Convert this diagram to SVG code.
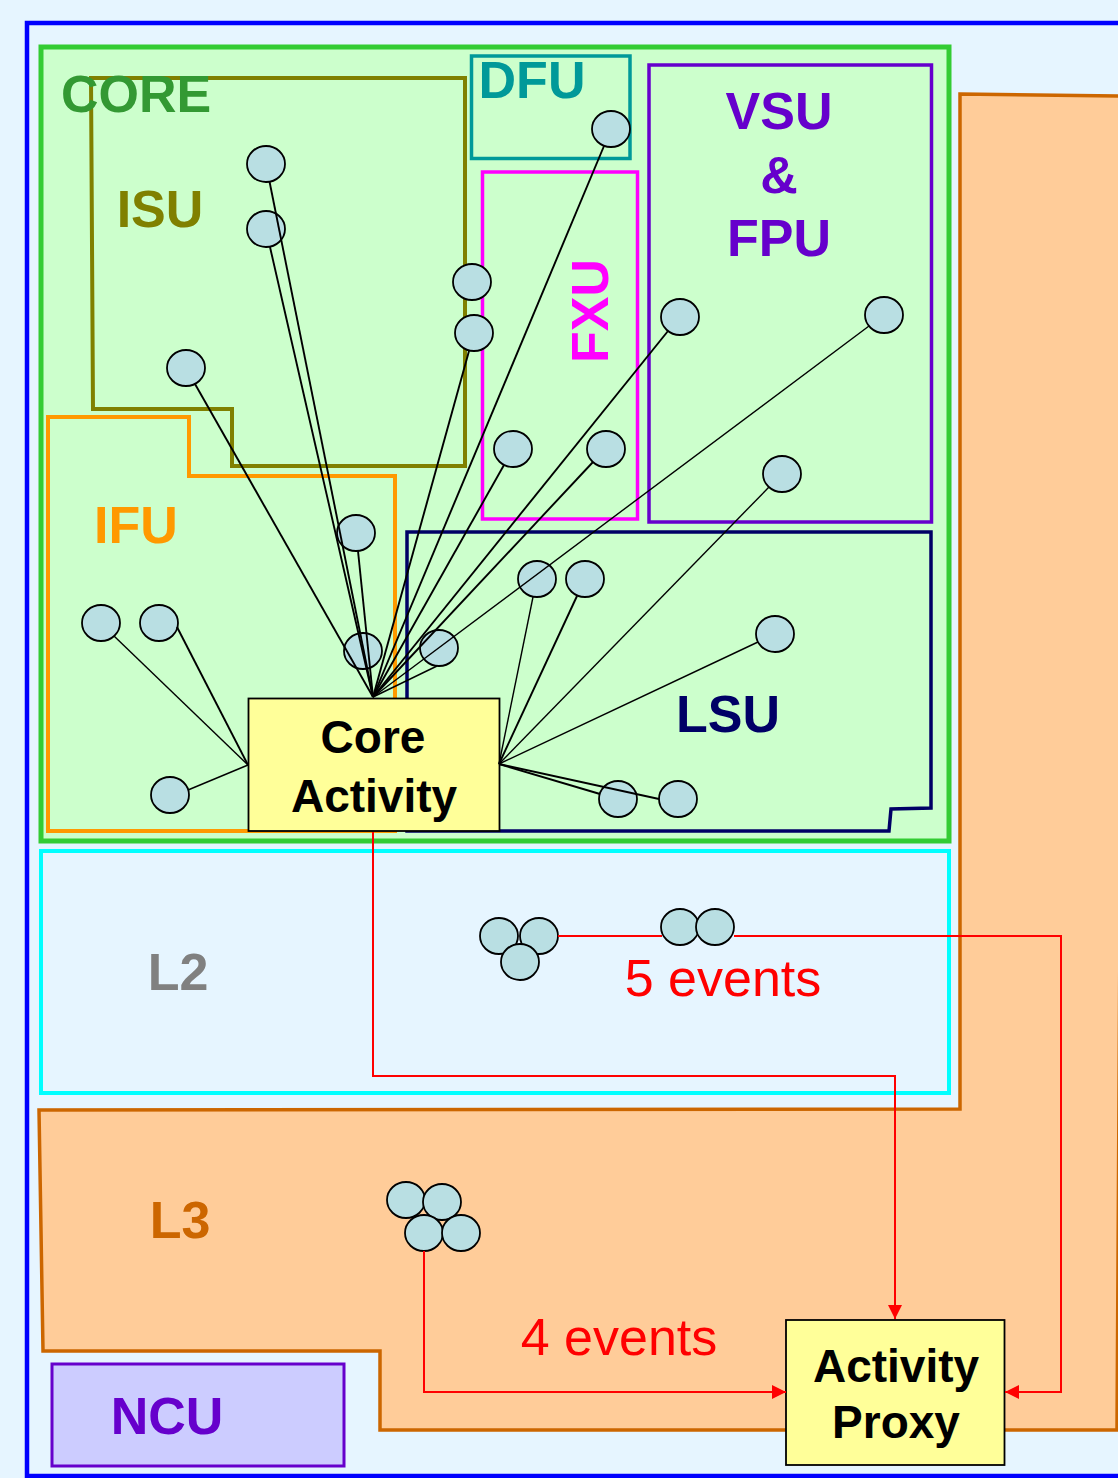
<svg xmlns="http://www.w3.org/2000/svg" width="1118" height="1478" viewBox="0 0 1118 1478">
<style>
.lbl{font-family:"Liberation Sans",Arial,sans-serif;font-weight:bold;font-size:52px;text-anchor:middle}
.box{font-family:"Liberation Sans",Arial,sans-serif;font-weight:bold;font-size:46px;text-anchor:middle;fill:#000}
.ev{font-family:"Liberation Sans",Arial,sans-serif;font-size:52px;text-anchor:middle;fill:#ff0000}
.nd{fill:#b9dfe3;stroke:#000;stroke-width:1.8}
.ln{stroke:#000;stroke-width:1.9;fill:none}
.thin{stroke:#000;stroke-width:1.4;fill:none}
.red{stroke:#ff0000;stroke-width:2;fill:none}
.act{fill:#ffff99;stroke:#000;stroke-width:1.8}
</style>
<defs>
<marker id="arr" markerUnits="userSpaceOnUse" markerWidth="14" markerHeight="14" refX="14" refY="7" orient="auto">
<path d="M0,0 L14,7 L0,14 z" fill="#ff0000"/>
</marker>
</defs>
<rect x="0" y="0" width="1118" height="1478" fill="#e6f5ff"/>
<g id="chip">
<rect x="27" y="23" width="1110" height="1453" fill="#e6f5ff" stroke="#0000ff" stroke-width="4.5"/>
</g>
<g id="L3">
<polygon points="960,94 1125,96 1117,1430 380,1430 380,1351 43,1351 39,1110 960,1109" fill="#ffcc99" stroke="#cc6600" stroke-width="3.5"/>
<text class="lbl" x="180" y="1238" fill="#cc6600">L3</text>
</g>
<g id="L2">
<rect x="41" y="851" width="908" height="242" fill="#e6f5ff" stroke="#00ffff" stroke-width="4"/>
<text class="lbl" x="178" y="990" fill="#808080">L2</text>
</g>
<g id="NCU">
<rect x="52" y="1364" width="292" height="102" fill="#ccccff" stroke="#6600cc" stroke-width="3"/>
<text class="lbl" x="167" y="1434" fill="#6600cc">NCU</text>
</g>
<g id="CORE">
<rect x="41" y="47" width="908" height="794" fill="#ccffcc" stroke="#33cc33" stroke-width="5"/>
</g>
<g id="ISU">
<polygon points="91,78 465,78 465,466 232,466 232,409 93,409" fill="none" stroke="#808000" stroke-width="4"/>
<text class="lbl" x="160" y="227" fill="#808000">ISU</text>
</g>
<g id="core-label"><text class="lbl" x="136" y="112" fill="#339933">CORE</text></g>
<g id="IFU">
<polygon points="48,417 189,417 189,476 395,476 395,831 48,831" fill="none" stroke="#ff9900" stroke-width="4"/>
<text class="lbl" x="136" y="543" fill="#ff9900">IFU</text>
</g>
<g id="DFU">
<rect x="471.5" y="56" width="158.5" height="102.5" fill="none" stroke="#009999" stroke-width="3.5"/>
<text class="lbl" x="532" y="98" fill="#009999">DFU</text>
</g>
<g id="FXU">
<rect x="482.5" y="172" width="155" height="347" fill="none" stroke="#ff00ff" stroke-width="3.5"/>
<text class="lbl" transform="translate(608,311) rotate(-90)" x="0" y="0" fill="#ff00ff">FXU</text>
</g>
<g id="VSU-FPU">
<rect x="649" y="65" width="282.5" height="457" fill="none" stroke="#6600cc" stroke-width="3.5"/>
<text class="lbl" x="779" y="129" fill="#6600cc">VSU</text>
<text class="lbl" x="779" y="193" fill="#6600cc">&amp;</text>
<text class="lbl" x="779" y="256" fill="#6600cc">FPU</text>
</g>
<g id="LSU">
<polygon points="407,532 931,532 931,808 891,809 889,831 407,831" fill="none" stroke="#000066" stroke-width="3.5"/>
<text class="lbl" x="728" y="732" fill="#000066">LSU</text>
</g>
<g id="core-activity">
<rect class="act" x="248.5" y="698.5" width="251" height="132.5"/>
<text class="box" x="373" y="753">Core</text>
<text class="box" x="374" y="812">Activity</text>
</g>
<g id="activity-proxy">
<rect class="act" x="786" y="1320" width="218.5" height="145"/>
<text class="box" x="896" y="1382">Activity</text>
<text class="box" x="896" y="1438">Proxy</text>
</g>
<g id="events">
<g id="isu-e1"><ellipse class="nd" cx="266" cy="164" rx="19" ry="18"/></g>
<g id="isu-e2"><ellipse class="nd" cx="266" cy="229" rx="19" ry="18"/></g>
<g id="isu-e3"><ellipse class="nd" cx="186" cy="368" rx="19" ry="18"/></g>
<g id="isu-e4"><ellipse class="nd" cx="472" cy="282" rx="19" ry="18"/></g>
<g id="isu-e5"><ellipse class="nd" cx="474" cy="333" rx="19" ry="18"/></g>
<g id="dfu-e1"><ellipse class="nd" cx="611" cy="129" rx="19" ry="18"/></g>
<g id="fxu-e1"><ellipse class="nd" cx="513" cy="449" rx="19" ry="18"/></g>
<g id="fxu-e2"><ellipse class="nd" cx="606" cy="449" rx="19" ry="18"/></g>
<g id="vsu-e1"><ellipse class="nd" cx="680" cy="317" rx="19" ry="18"/></g>
<g id="vsu-e2"><ellipse class="nd" cx="884" cy="315" rx="19" ry="18"/></g>
<g id="vsu-e3"><ellipse class="nd" cx="782" cy="474" rx="19" ry="18"/></g>
<g id="ifu-e1"><ellipse class="nd" cx="356" cy="533" rx="19" ry="18"/></g>
<g id="ifu-e2"><ellipse class="nd" cx="363" cy="651" rx="19" ry="18"/></g>
<g id="ifu-e3"><ellipse class="nd" cx="101" cy="623" rx="19" ry="18"/></g>
<g id="ifu-e4"><ellipse class="nd" cx="159" cy="623" rx="19" ry="18"/></g>
<g id="ifu-e5"><ellipse class="nd" cx="170" cy="795" rx="19" ry="18"/></g>
<g id="lsu-e1"><ellipse class="nd" cx="439" cy="648" rx="19" ry="18"/></g>
<g id="lsu-e2"><ellipse class="nd" cx="537" cy="579" rx="19" ry="18"/></g>
<g id="lsu-e3"><ellipse class="nd" cx="585" cy="579" rx="19" ry="18"/></g>
<g id="lsu-e4"><ellipse class="nd" cx="775" cy="634" rx="19" ry="18"/></g>
<g id="lsu-e5"><ellipse class="nd" cx="618" cy="799" rx="19" ry="18"/></g>
<g id="lsu-e6"><ellipse class="nd" cx="678" cy="799" rx="19" ry="18"/></g>
<g id="l2-e1"><ellipse class="nd" cx="499" cy="936" rx="19" ry="18"/></g>
<g id="l2-e2"><ellipse class="nd" cx="539" cy="936" rx="19" ry="18"/></g>
<g id="l2-e3"><ellipse class="nd" cx="520" cy="962" rx="19" ry="18"/></g>
<g id="l2-e4"><ellipse class="nd" cx="680" cy="927" rx="19" ry="18"/></g>
<g id="l2-e5"><ellipse class="nd" cx="715" cy="927" rx="19" ry="18"/></g>
<g id="l3-e1"><ellipse class="nd" cx="406" cy="1200" rx="19" ry="18"/></g>
<g id="l3-e2"><ellipse class="nd" cx="442" cy="1202" rx="19" ry="18"/></g>
<g id="l3-e3"><ellipse class="nd" cx="424" cy="1233" rx="19" ry="18"/></g>
<g id="l3-e4"><ellipse class="nd" cx="461" cy="1233" rx="19" ry="18"/></g>
</g>
<g id="connectors">
<line class="ln" x1="373" y1="697" x2="269.6" y2="182"/>
<line class="ln" x1="373" y1="697" x2="270" y2="247"/>
<line class="ln" x1="373" y1="697" x2="195" y2="384"/>
<line class="ln" x1="373" y1="697" x2="469" y2="351"/>
<line class="ln" x1="373" y1="697" x2="604" y2="146"/>
<line class="ln" x1="373" y1="697" x2="358" y2="551"/>
<line class="ln" x1="373" y1="697" x2="504" y2="465"/>
<line class="ln" x1="373" y1="697" x2="593" y2="462"/>
<line class="ln" x1="373" y1="697" x2="668" y2="331"/>
<line class="thin" x1="373" y1="697" x2="869" y2="326"/>
<line class="thin" x1="373" y1="697" x2="437" y2="666"/>
<line class="thin" x1="248" y1="765" x2="114" y2="636"/>
<line class="ln" x1="248" y1="765" x2="177" y2="627"/>
<line class="thin" x1="248" y1="765" x2="188" y2="790"/>
<line class="thin" x1="499" y1="764" x2="533" y2="597"/>
<line class="ln" x1="499" y1="764" x2="577" y2="596"/>
<line class="thin" x1="499" y1="764" x2="769" y2="487"/>
<line class="thin" x1="499" y1="764" x2="758" y2="642"/>
<line class="ln" x1="499" y1="764" x2="600" y2="794"/>
<line class="ln" x1="499" y1="764" x2="659" y2="799"/>
<path class="red" d="M373,832 V1076 H895 V1319" marker-end="url(#arr)"/>
<path class="red" d="M558,936 H662 M734,936 H1061 V1392 H1005" marker-end="url(#arr)"/>
<path class="red" d="M424,1251 V1392 H786" marker-end="url(#arr)"/>
</g>
<g id="labels">
<text class="ev" x="723" y="996">5 events</text>
<text class="ev" x="619" y="1355">4 events</text>
</g>
</svg>
